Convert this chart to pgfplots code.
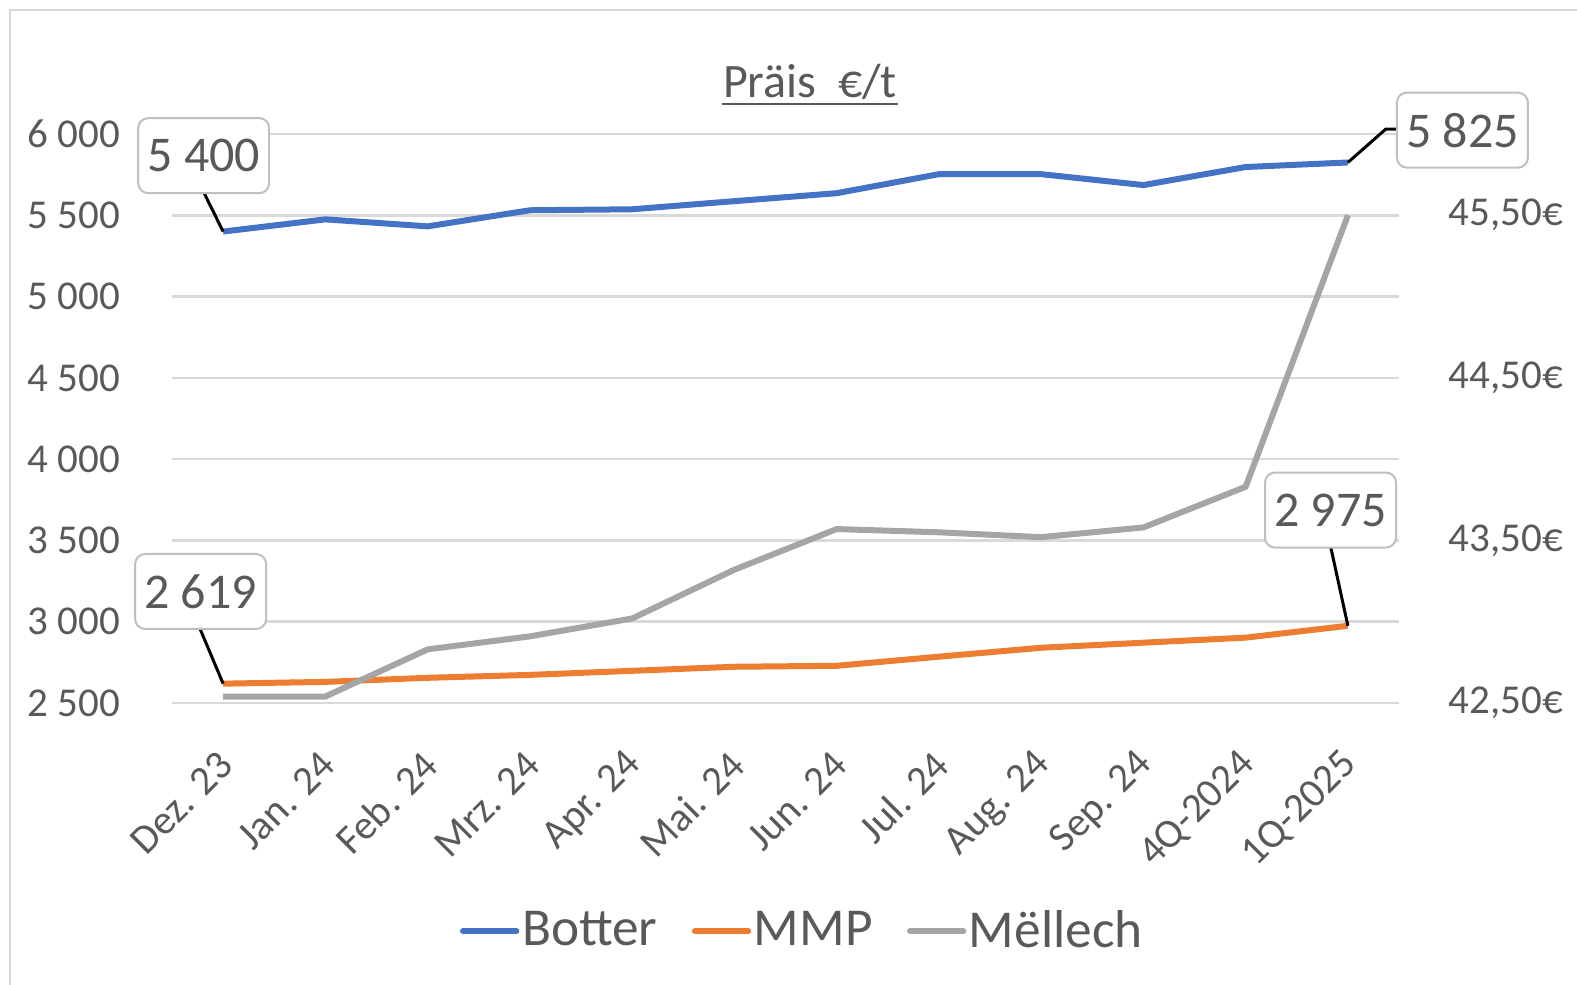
\documentclass[border=0pt]{standalone}
\usepackage{fontspec}
\setmainfont{Carlito}
\usepackage{pgfplots}
\pgfplotsset{compat=1.18}
\definecolor{cblue}{HTML}{4472C4}
\definecolor{corange}{HTML}{ED7D31}
\definecolor{cgray}{HTML}{A5A5A5}
\definecolor{ctext}{HTML}{595959}
\definecolor{cgrid}{HTML}{D9D9D9}
\definecolor{cbox}{HTML}{BFBFBF}
\begin{document}
\begin{tikzpicture}
\useasboundingbox (0,0) rectangle (473.1pt,295.2pt);
\draw[cgrid, line width=0.7pt] (3pt,-5pt) -- (3pt,292.2pt) -- (480pt,292.2pt);
\begin{axis}[
  at={(51.6pt,84.3pt)}, anchor=south west,
  scale only axis, width=368.1pt, height=170.7pt,
  xmin=-0.5, xmax=11.5, ymin=2500, ymax=6000,
  xtick={0,...,11},
  xticklabels={Dez. 23, Jan. 24, Feb. 24, Mrz. 24, Apr. 24, Mai. 24, Jun. 24, Jul. 24, Aug. 24, Sep. 24, 4Q-2024, 1Q-2025},
  ytick={2500,3000,...,6000},
  yticklabels={2 500,3 000,3 500,4 000,4 500,5 000,5 500,6 000},
  ymajorgrids, grid style={cgrid, line width=0.75pt},
  axis line style={draw=none}, major tick length=0pt,
  tick label style={font=\fontsize{12.3}{14}\selectfont, text=ctext},
  yticklabel style={inner sep=0pt, xshift=-15.3pt},
  xticklabel style={xshift=1pt, yshift=-16.5pt, rotate=45, anchor=east, inner sep=0pt},
  clip=false,
  legend style={at={(0.514,-0.401)}, anchor=center, draw=none, fill=none,
    legend columns=3, font=\fontsize{16}{19}\selectfont, text=ctext,
    /tikz/every even column/.append style={column sep=9.5pt},
    nodes={inner sep=0.8pt}},
  legend image code/.code={\draw[#1, line cap=round] (0pt,0pt) -- (16pt,0pt);},
]
\addplot[cblue, line width=1.8pt] coordinates {
(0,5400) (1,5475) (2,5432) (3,5531) (4,5537) (5,5587) (6,5636) (7,5753) (8,5753) (9,5686) (10,5797) (11,5825)};
\addlegendentry{Botter}
\addplot[corange, line width=1.8pt] coordinates {
(0,2619) (1,2630) (2,2655) (3,2673) (4,2698) (5,2723) (6,2729) (7,2785) (8,2840) (9,2871) (10,2902) (11,2975)};
\addlegendentry{MMP}
\addlegendimage{cgray, line width=1.8pt}
\addlegendentry{Mëllech}
% data labels
\draw[black, line width=0.9pt] (axis cs:-0.186,5637) -- (axis cs:0,5400);
\draw[black, line width=0.9pt] (axis cs:11,5825) -- (axis cs:11.37,6030) -- (axis cs:11.49,6030);
\draw[black, line width=0.9pt] (axis cs:-0.225,2955) -- (axis cs:0,2619);
\draw[black, line width=0.9pt] (axis cs:10.83,3466) -- (axis cs:11,2975);
\tikzset{lbl/.style={draw=cbox, fill=white, rounded corners=3pt, line width=0.6pt,
  minimum width=39.3pt, minimum height=22.5pt, inner sep=0pt, text=ctext,
  font=\fontsize{15}{18}\selectfont}}
\node[lbl] at (axis cs:-0.19,5867) {5 400};
\node[lbl] at (axis cs:12.12,6024) {5 825};
\node[lbl] at (axis cs:-0.22,3186) {2 619};
\node[lbl] at (axis cs:10.83,3687) {2 975};
% title
\node[anchor=base, inner sep=0pt, font=\fontsize{14.4}{17}\selectfont, text=ctext] (ttl) at (axis description cs:0.52,1.065) {Präis\ \ €/t};
\draw[ctext, line width=0.7pt] ([yshift=-2pt]ttl.base west) -- ([yshift=-2pt]ttl.base east);
\end{axis}
\begin{axis}[
  at={(51.6pt,84.3pt)}, anchor=south west,
  scale only axis, width=368.1pt, height=170.7pt,
  xmin=-0.5, xmax=11.5, ymin=42.5, ymax=46,
  axis y line*=right, axis x line=none,
  ytick={42.5,43.5,44.5,45.5},
  yticklabels={{42,50€},{43,50€},{44,50€},{45,50€}},
  axis line style={draw=none}, major tick length=0pt,
  tick label style={font=\fontsize{12.3}{14}\selectfont, text=ctext},
  yticklabel style={inner sep=0pt, xshift=14.7pt},
  clip=false,
]
\addplot[cgray, line width=1.8pt] coordinates {
(0,42.54) (1,42.54) (2,42.83) (3,42.91) (4,43.02) (5,43.32) (6,43.57) (7,43.55) (8,43.52) (9,43.58) (10,43.83) (11,45.50)};
\end{axis}
\end{tikzpicture}
\end{document}
